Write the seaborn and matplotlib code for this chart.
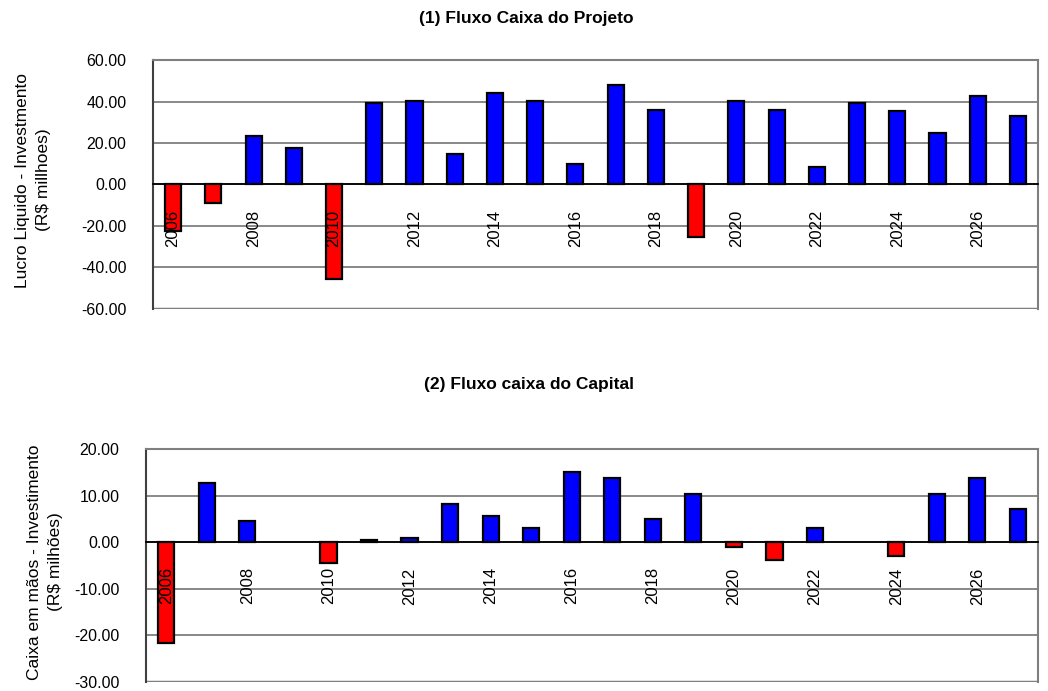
import matplotlib
matplotlib.use("Agg")
import matplotlib.pyplot as plt
import matplotlib.ticker as mticker
import numpy as np
import pandas as pd
import seaborn as sns

# Years of the projection
years = list(range(2006, 2028))

# (1) Project cash flow: net profit minus investment (R$ millions)
fluxo_projeto = [-22.6, -9.2, 23.2, 17.6, -45.8, 39.2, 40.2, 14.8, 44.2, 40.2, 10.0,
                 48.2, 35.8, -25.2, 40.2, 35.8, 8.5, 39.2, 35.2, 24.8, 42.6, 33.2]

# (2) Capital cash flow: cash on hand minus investment (R$ millions)
fluxo_capital = [-21.7, 12.7, 4.6, 0.0, -4.4, 0.5, 0.9, 8.2, 5.7, 3.1, 15.2,
                 13.7, 4.9, 10.4, -1.1, -3.8, 3.1, 0.0, -3.0, 10.4, 13.7, 7.2]

titulos = ["(1) Fluxo Caixa do Projeto", "(2) Fluxo caixa do Capital"]
rotulos_y = ["Lucro Liquido - Investmento\n(R$ millhoes)",
             "Caixa em mãos - Investimento\n(R$ milhões)"]
limites_y = [(-60, 60), (-30, 20)]
passos_y = [20, 10]

sns.set_style("white")
plt.rcParams["font.family"] = ["Liberation Sans", "DejaVu Sans"]
plt.rcParams.update({"text.color": "black", "axes.labelcolor": "black",
                     "xtick.color": "black", "ytick.color": "black"})

fig = plt.figure(figsize=(10.48, 6.91), dpi=100)
ax1 = fig.add_axes([0.146, 0.5533, 0.8445, 0.3597])
ax2 = fig.add_axes([0.1393, 0.013, 0.8512, 0.337])

cores = {"pos": "#0000FF", "neg": "#FF0000"}
grid_cor = "#7f7f7f"

posicoes_titulo = [(0.502, 1 - 18 / 691), (0.505, 1 - 385 / 691)]
coords_rotulo = [(-0.1356, 0.517), (-0.113, 0.515)]

for ax, valores, titulo, rotulo, lim, passo, pt, cr in zip(
        [ax1, ax2], [fluxo_projeto, fluxo_capital], titulos, rotulos_y,
        limites_y, passos_y, posicoes_titulo, coords_rotulo):
    df = pd.DataFrame({"ano": [str(a) for a in years], "valor": valores})
    df["sinal"] = np.where(df["valor"] < 0, "neg", "pos")
    df = df[df["valor"] != 0]
    sns.barplot(data=df, x="ano", y="valor", hue="sinal", palette=cores,
                order=[str(a) for a in years], saturation=1,
                dodge=False, width=0.4, edgecolor="black", linewidth=1.6,
                legend=False, ax=ax, zorder=3)

    ax.set_xlim(-0.5, len(years) - 0.5)
    ax.set_ylim(*lim)
    ax.yaxis.set_major_locator(mticker.MultipleLocator(passo))
    ax.yaxis.set_major_formatter(mticker.FormatStrFormatter("%.2f"))
    ax.grid(axis="y", color=grid_cor, linewidth=1.3)
    ax.grid(axis="x", visible=False)
    ax.set_axisbelow(True)
    ax.xaxis.set_zorder(5)

    # category axis crosses at zero
    ax.spines["bottom"].set_position(("data", 0))
    ax.spines["bottom"].set_color("black")
    ax.spines["bottom"].set_linewidth(1.3)
    ax.spines["bottom"].set_zorder(4)
    ax.spines["left"].set_color("#404040")
    ax.spines["left"].set_linewidth(1.5)
    for s in ["top", "right"]:
        ax.spines[s].set_visible(True)
        ax.spines[s].set_color(grid_cor)
        ax.spines[s].set_linewidth(1.5)
    # lower frame line of the plot area
    ax.axhline(lim[0], color=grid_cor, linewidth=2.5, zorder=1)

    ax.set_xticks(range(len(years)))
    ax.set_xticklabels([str(a) if (a - years[0]) % 2 == 0 else "" for a in years],
                       rotation=90, fontsize=12, va="top")
    ax.tick_params(axis="x", which="major", length=0, pad=18)
    ax.set_xticks(np.arange(-0.5, len(years), 1.0), minor=True)
    ax.tick_params(axis="x", which="minor", direction="in", length=7,
                   width=1.2, color="black")
    ax.tick_params(axis="y", length=0, labelsize=11.5, pad=19)

    ax.set_xlabel("")
    ax.set_ylabel(rotulo, fontsize=12.5, linespacing=1.45)
    ax.yaxis.set_label_coords(*cr)
    ax.yaxis.label.set_va("center")
    fig.text(pt[0], pt[1], titulo, fontsize=12.5, fontweight="bold",
             ha="center", va="center")

fig.savefig("out.png", dpi=100)
